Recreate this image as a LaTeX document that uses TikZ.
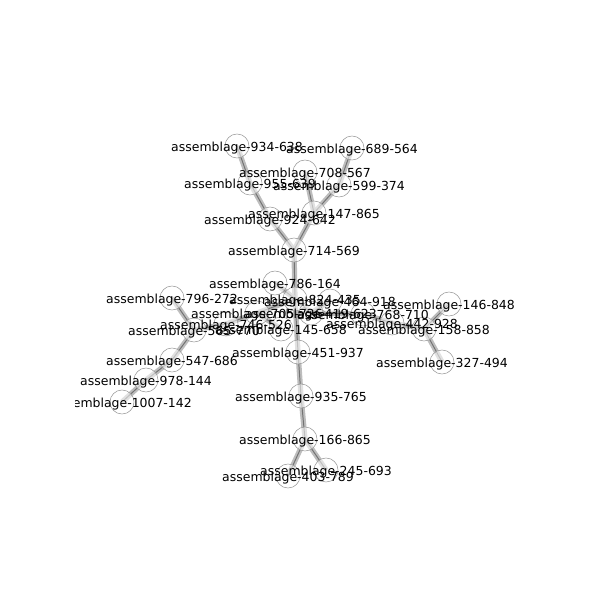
\documentclass[tikz,border=0pt]{standalone}
\usepackage{fontspec}
\setmainfont{DejaVu Sans}
\usetikzlibrary{backgrounds}

\begin{document}
\begin{tikzpicture}[x=0.01in, y=-0.01in,
  main/.style = {draw=gray!80, circle, fill=white, fill opacity=0.55, minimum size=0.24in, inner sep=0pt, line width=0.4pt},
  link/.style = {black!55, line width=0.7pt, preaction={draw, gray!60, line width=3.8pt, opacity=0.85}},
  tag/.style = {font=\fontsize{9}{10}\selectfont, inner sep=0pt, yshift=-1.5}]
\useasboundingbox (0,0) rectangle (600,600);
% upper branch
\node[main] (934638) at (237,146) {};
\node[main] (689564) at (352,148) {};
\node[main] (708567) at (305,172) {};
\node[main] (955639) at (250,183) {};
\node[main] (599374) at (339,185) {};
\node[main] (147865) at (314,213) {};
\node[main] (924642) at (270,219) {};
\node[main] (714569) at (294,250) {};
% middle
\node[main] (786164) at (275,283) {};
\node[main] (824435) at (295,299) {};
\node[main] (464918) at (330,301) {};
\node[main] (705726) at (257,313) {};
\node[main] (419623) at (311,313) {};
\node[main] (768710) at (363,314) {};
\node[main] (442928) at (392,323) {};
\node[main] (158858) at (424,329) {};
\node[main] (146848) at (449,304) {};
\node[main] (327494) at (442,362) {};
\node[main] (145658) at (281,329) {};
\node[main] (746526) at (226,324) {};
\node[main] (565770) at (194,330) {};
\node[main] (796272) at (172,298) {};
\node[main] (547686) at (172,360) {};
\node[main] (978144) at (146,380) {};
\node[main] (1007142) at (122,402) {};
% lower branch
\node[main] (451937) at (298,352) {};
\node[main] (935765) at (301,396) {};
\node[main] (166865) at (305,439) {};
\node[main] (403789) at (288,476) {};
\node[main] (245693) at (326,470) {};

\begin{pgfonlayer}{background}
\draw[link] (934638.center) -- (955639.center);
\draw[link] (955639.center) -- (924642.center);
\draw[link] (924642.center) -- (714569.center);
\draw[link] (689564.center) -- (599374.center);
\draw[link] (599374.center) -- (147865.center);
\draw[link] (708567.center) -- (147865.center);
\draw[link] (147865.center) -- (714569.center);
\draw[link] (714569.center) -- (824435.center);
\draw[link] (786164.center) -- (824435.center);
\draw[link] (824435.center) -- (705726.center);
\draw[link] (824435.center) -- (419623.center);
\draw[link] (824435.center) -- (451937.center);
\draw[link] (705726.center) -- (746526.center);
\draw[link] (705726.center) -- (145658.center);
\draw[link] (746526.center) -- (565770.center);
\draw[link] (565770.center) -- (796272.center);
\draw[link] (565770.center) -- (547686.center);
\draw[link] (547686.center) -- (978144.center);
\draw[link] (978144.center) -- (1007142.center);
\draw[link] (419623.center) -- (464918.center);
\draw[link] (419623.center) -- (768710.center);
\draw[link] (768710.center) -- (442928.center);
\draw[link] (442928.center) -- (158858.center);
\draw[link] (158858.center) -- (146848.center);
\draw[link] (158858.center) -- (327494.center);
\draw[link] (451937.center) -- (935765.center);
\draw[link] (935765.center) -- (166865.center);
\draw[link] (166865.center) -- (403789.center);
\draw[link] (166865.center) -- (245693.center);
\end{pgfonlayer}

% labels, cut at the plot frame
\begin{scope}
\clip (75,0) rectangle (540,600);
\node[tag] (t934638) at (934638) {assemblage-934-638};
\node[tag] (t689564) at (689564) {assemblage-689-564};
\node[tag] (t708567) at (708567) {assemblage-708-567};
\node[tag] (t955639) at (955639) {assemblage-955-639};
\node[tag] (t599374) at (599374) {assemblage-599-374};
\node[tag] (t147865) at (147865) {assemblage-147-865};
\node[tag] (t924642) at (924642) {assemblage-924-642};
\node[tag] (t714569) at (714569) {assemblage-714-569};
\node[tag] (t786164) at (786164) {assemblage-786-164};
\node[tag] (t824435) at (824435) {assemblage-824-435};
\node[tag] (t464918) at (464918) {assemblage-464-918};
\node[tag] (t705726) at (705726) {assemblage-705-726};
\node[tag] (t419623) at (419623) {assemblage-419-623};
\node[tag] (t768710) at (768710) {assemblage-768-710};
\node[tag] (t442928) at (442928) {assemblage-442-928};
\node[tag] (t158858) at (158858) {assemblage-158-858};
\node[tag] (t146848) at (146848) {assemblage-146-848};
\node[tag] (t327494) at (327494) {assemblage-327-494};
\node[tag] (t145658) at (145658) {assemblage-145-658};
\node[tag] (t746526) at (746526) {assemblage-746-526};
\node[tag] (t565770) at (565770) {assemblage-565-770};
\node[tag] (t796272) at (796272) {assemblage-796-272};
\node[tag] (t547686) at (547686) {assemblage-547-686};
\node[tag] (t978144) at (978144) {assemblage-978-144};
\node[tag] (t1007142) at (1007142) {assemblage-1007-142};
\node[tag] (t451937) at (451937) {assemblage-451-937};
\node[tag] (t935765) at (935765) {assemblage-935-765};
\node[tag] (t166865) at (166865) {assemblage-166-865};
\node[tag] (t403789) at (403789) {assemblage-403-789};
\node[tag] (t245693) at (245693) {assemblage-245-693};
\end{scope}
\end{tikzpicture}
\end{document}
